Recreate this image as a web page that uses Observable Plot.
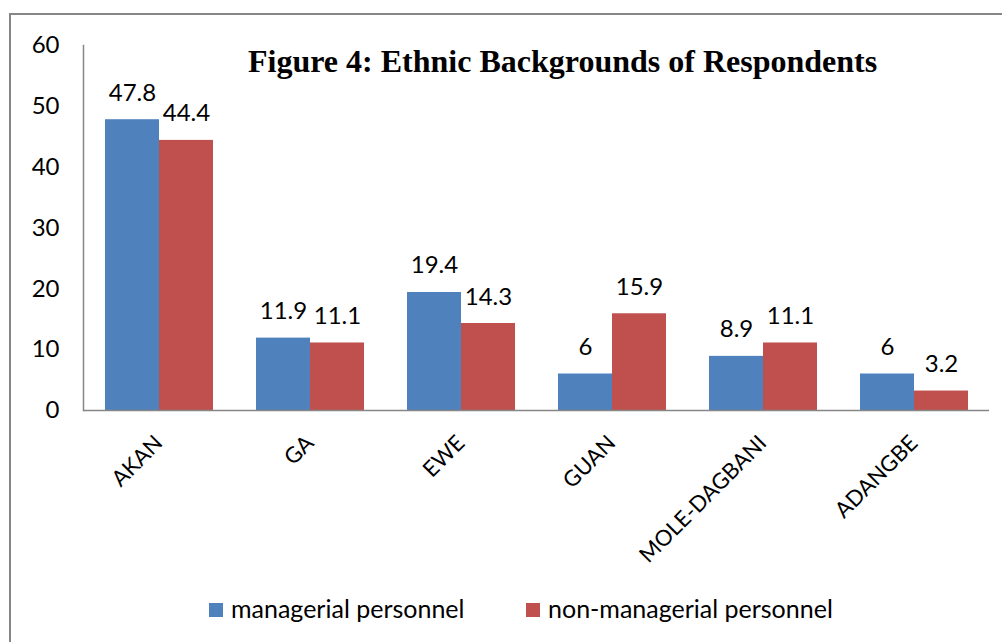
<!DOCTYPE html>
<html><head><meta charset="utf-8">
<script src="https://cdn.jsdelivr.net/npm/d3@7"></script>
<script src="https://cdn.jsdelivr.net/npm/@observablehq/plot@0.6"></script>
<style>
html,body{margin:0;padding:0;overflow:hidden;background:#fff;width:1002px;height:642px}
#wrap{position:relative;width:1002px;height:642px;font-family:Lato,sans-serif;overflow:hidden}
#border{position:absolute;left:9px;top:13px;width:1010px;height:650px;border:2px solid #868686;box-sizing:border-box}
#chart{position:absolute;left:0;top:0}
#title{position:absolute;left:248px;top:45px;font:bold 32px/32px "Liberation Serif",serif;color:#000;white-space:nowrap}
.sw{position:absolute;width:14px;height:14px;top:603px}
.lt{position:absolute;top:596px;font:25px/25px Lato,sans-serif;color:#000;white-space:nowrap}
</style></head>
<body>
<div id="wrap">
<div id="border"></div>
<div id="chart"></div>
<div id="title">Figure 4: Ethnic Backgrounds of Respondents</div>
<div id="legend"></div>
</div>
<script>
const categories = ["AKAN", "GA", "EWE", "GUAN", "MOLE-DAGBANI", "ADANGBE"];
const series = ["managerial personnel", "non-managerial personnel"];
const managerial = [47.8, 11.9, 19.4, 6, 8.9, 6];
const nonManagerial = [44.4, 11.1, 14.3, 15.9, 11.1, 3.2];
const colors = ["#4F81BD", "#C0504D"];
const yTicks = [0, 10, 20, 30, 40, 50, 60];

const data = [];
categories.forEach((c, i) => {
  data.push({category: c, series: series[0], value: managerial[i]});
  data.push({category: c, series: series[1], value: nonManagerial[i]});
});

const chart = Plot.plot({
  width: 1002,
  height: 560,
  marginTop: 45,
  marginBottom: 150,
  marginLeft: 81,
  marginRight: 12,
  style: {fontFamily: "Lato, sans-serif", fontSize: "24px", color: "#000", background: "transparent", overflow: "visible"},
  fx: {domain: categories, padding: 0, label: null},
  x: {domain: series, paddingInner: 0, paddingOuter: 0.377, axis: null},
  y: {domain: [0, 60], ticks: yTicks, tickSize: 0, tickPadding: 24, label: null},
  color: {domain: series, range: colors},
  marks: [
    Plot.barY(data, {fx: "category", x: "series", y: "value", fill: "series"}),
    Plot.text(data, {fx: "category", x: "series", y: "value", text: d => String(d.value), lineAnchor: "bottom", dy: -19, fill: "#000"}),
    Plot.ruleY([0], {stroke: "#868686", strokeWidth: 1.5}),
    Plot.frame({anchor: "left", facetAnchor: "left", stroke: "#868686", strokeWidth: 1.5}),
    Plot.axisFx({anchor: "bottom", tickRotate: -45, tickSize: 0, tickPadding: 29, fontSize: 22, label: null})
  ]
});
document.getElementById("chart").appendChild(chart);

const legend = document.getElementById("legend");
const swLeft = [209, 526], txtLeft = [231, 548];
series.forEach((s, i) => {
  const sw = document.createElement("div");
  sw.className = "sw"; sw.style.left = swLeft[i] + "px"; sw.style.background = colors[i];
  const t = document.createElement("div");
  t.className = "lt"; t.style.left = txtLeft[i] + "px"; t.textContent = s;
  legend.appendChild(sw); legend.appendChild(t);
});
</script>
</body></html>
